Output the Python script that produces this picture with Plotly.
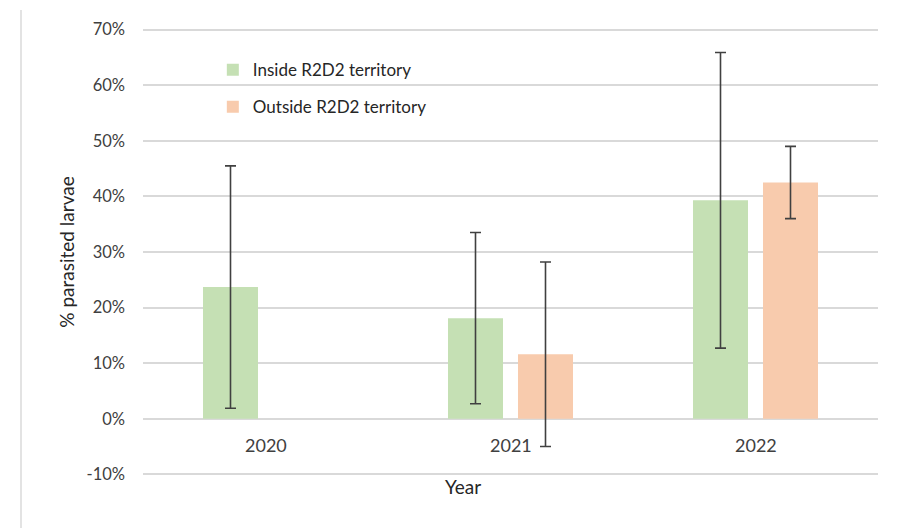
import plotly.graph_objects as go

# Share of parasited larvae per year, inside vs outside R2D2 territory
years = ["2020", "2021", "2022"]
inside = [0.237, 0.181, 0.393]
inside_err = [0.218, 0.154, 0.266]
outside = [None, 0.116, 0.425]
outside_err = [None, 0.166, 0.065]
y_ticks = [-0.1, 0.0, 0.1, 0.2, 0.3, 0.4, 0.5, 0.6, 0.7]
y_tick_text = ["-10%", "0%", "10%", "20%", "30%", "40%", "50%", "60%", "70%"]

FONT = "Lato"
TEXT = "#404040"
DARK = "#262626"
GRID = "#d9d9d9"
ERR = "#404040"

fig = go.Figure()
fig.add_trace(go.Bar(
    x=years, y=inside, name="Inside R2D2 territory",
    marker=dict(color="#c5e0b4", line=dict(width=0)),
    error_y=dict(type="data", array=inside_err, color=ERR, thickness=1.6, width=5.5),
    legendgroup="a",
))
fig.add_trace(go.Bar(
    x=years, y=outside, name="Outside R2D2 territory",
    marker=dict(color="#f8cbad", line=dict(width=0)),
    error_y=dict(type="data", array=outside_err, color=ERR, thickness=1.6, width=5.5),
    legendgroup="b",
))

# Year labels sit just below the 0% line (category index positions)
for i, yr in enumerate(years):
    fig.add_annotation(x=i, y=0, xref="x", yref="y", text=yr, showarrow=False,
                       yshift=-26, font=dict(family=FONT, size=18, color=TEXT))

fig.add_annotation(x=0.435, y=0.0067, xref="paper", yref="paper", text="Year",
                   showarrow=False, yanchor="top",
                   font=dict(family=FONT, size=19, color=DARK))

# thin frame line on the left edge of the page
fig.add_shape(type="line", xref="paper", yref="paper", x0=-0.166, x1=-0.166,
              y0=1.04, y1=-0.15, line=dict(color="#e3e3e3", width=2), layer="below")

fig.update_layout(
    width=897, height=528,
    margin=dict(l=143, r=19, t=28, b=52),
    paper_bgcolor="white", plot_bgcolor="white",
    barmode="group", bargap=0.4286, bargroupgap=0.214,
    font=dict(family=FONT, color=TEXT),
    showlegend=True,
    legend=dict(x=0.095, y=0.946, xanchor="left", yanchor="top",
                font=dict(family=FONT, size=17, color=DARK),
                tracegroupgap=12, bgcolor="rgba(0,0,0,0)"),
    xaxis=dict(type="category", range=[-0.5, 2.5], showticklabels=False,
               showgrid=False, zeroline=False, showline=False, ticks=""),
    yaxis=dict(range=[-0.103, 0.703], tickvals=y_ticks, ticktext=y_tick_text,
               showgrid=True, gridcolor=GRID, gridwidth=1.5,
               zeroline=True, zerolinecolor=GRID, zerolinewidth=1.5,
               showline=False, ticks="", ticklabelstandoff=17,
               tickfont=dict(family=FONT, size=16.5, color=TEXT),
               title=dict(text="% parasited larvae", standoff=6,
                          font=dict(family=FONT, size=19, color=DARK))),
)

fig.write_html("out.html")
